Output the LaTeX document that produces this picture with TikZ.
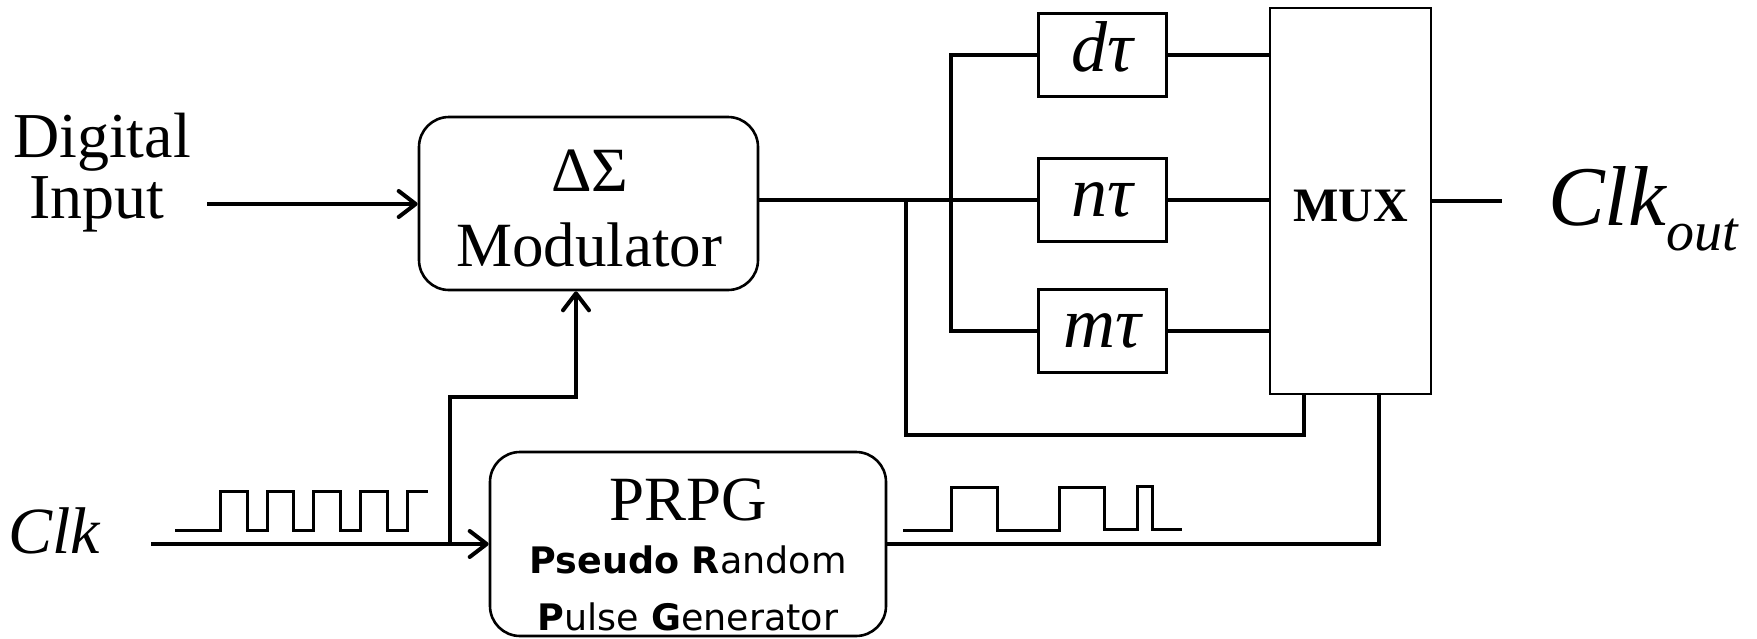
\documentclass[tikz,border=0pt]{standalone}
\usepackage{fontspec}
\setmainfont{Liberation Serif}
\newfontfamily\prpgfont{DejaVu Sans}
\usetikzlibrary{arrows.meta}
\begin{document}
\begin{tikzpicture}[x=1pt,y=-1pt,
  wire/.style={line width=4pt},
  wave/.style={line width=3pt},
  arr/.style={line width=4pt,-{Straight Barb[length=17pt,width=26pt,round]}},
  rbox/.style={draw,line width=2.6pt,rounded corners=30pt,inner sep=0pt},
  sbox/.style={draw,line width=3pt,inner sep=0pt},
  txt/.style={anchor=base,inner sep=0pt,font=\fontsize{63}{65}\selectfont},
  tautxt/.style={font=\fontsize{72}{74}\selectfont\itshape,text height=32pt,text depth=0pt},
  sanstxt/.style={anchor=base,inner sep=0pt,font=\prpgfont\fontsize{36.5}{39}\selectfont}
]
\useasboundingbox (0,0) rectangle (1757,638);

% Modulator
\node[rbox,minimum width=339pt,minimum height=173pt] (mod) at (588.5,203.5) {};
\node[txt] (modt1) at (590,191) {ΔΣ};
\node[txt] (modt2) at (589,266) {Modulator};

% Digital input
\node[txt,font=\fontsize{64}{66}\selectfont] (din1) at (102,157) {Digital};
\node[txt,font=\fontsize{64}{66}\selectfont] (din2) at (97,218) {Input};
\coordinate (dinend) at (207,204);
\draw[arr] (dinend) -- (dinend -| mod.west);

% delay boxes
\node[sbox,minimum width=128pt,minimum height=83pt,tautxt] (dtau) at (1102,55) {dτ};
\node[sbox,minimum width=128pt,minimum height=83pt,tautxt] (ntau) at (1102,200) {nτ};
\node[sbox,minimum width=128pt,minimum height=83pt,tautxt] (mtau) at (1102,331) {mτ};

% MUX
\node[sbox,line width=2.5pt,minimum width=161pt,minimum height=386pt,
      font=\fontsize{48}{50}\selectfont\bfseries,text height=40pt,text depth=0pt] (mux) at (1350.5,201) {MUX};

% wiring
\draw[wire] (mod.east |- ntau.west) -- (ntau.west);
\coordinate (bx) at (951,200);
\draw[wire] (dtau.west) -- (dtau.west -| bx) -- (mtau.west -| bx) -- (mtau.west);
\draw[wire] (dtau.east) -- (dtau.east -| mux.west);
\draw[wire] (ntau.east) -- (ntau.east -| mux.west);
\draw[wire] (mtau.east) -- (mtau.east -| mux.west);
\coordinate (fbx) at (906,435);
\coordinate (sel1) at (1304,394);
\coordinate (sel2) at (1379,394);
\draw[wire] (fbx |- ntau.west) -- (fbx) -| (sel1);
\coordinate (outend) at (1502,201);
\draw[wire] (mux.east) -- (outend);

% Clk out
\node[anchor=base west,inner sep=0pt,font=\fontsize{85}{87}\selectfont\itshape] (clkout) at (1548,225)
  {Clk\raisebox{-25pt}{\fontsize{56}{58}\selectfont out}};

% PRPG
\node[rbox,minimum width=396pt,minimum height=184pt] (prpg) at (688,544) {};
\node[txt] (prpgt) at (688,520) {PRPG};
\node[sanstxt] (prpgt2) at (688,573) {\textbf{Pseudo R}andom};
\node[sanstxt] (prpgt3) at (688,630) {\textbf{P}ulse \textbf{G}enerator};
\draw[wire] (prpg.east) -| (sel2);

% Clk
\node[anchor=base west,inner sep=0pt,font=\fontsize{66}{68}\selectfont\itshape] (clk) at (8,553) {Clk};
\coordinate (clkstart) at (151,544);
\draw[arr] (clkstart) -- (prpg.west);
\coordinate (clkbr) at (450,544);
\coordinate (modin) at (576,397);
\draw[arr] (clkbr) |- (modin) -- (modin |- mod.south);

% waveforms
\draw[wave] (175,530) -- (220,530) -- (220,491) -- (247,491) -- (247,530) -- (267,530)
  -- (267,491) -- (293,491) -- (293,530) -- (313,530) -- (313,491) -- (340,491)
  -- (340,530) -- (360,530) -- (360,491) -- (387,491) -- (387,530) -- (407,530)
  -- (407,491) -- (428,491);
\draw[wave] (903,530) -- (951,530) -- (951,487) -- (997,487) -- (997,530) -- (1059,530)
  -- (1059,487) -- (1104,487) -- (1104,529) -- (1137,529) -- (1137,486) -- (1152,486)
  -- (1152,529) -- (1182,529);
\end{tikzpicture}
\end{document}
